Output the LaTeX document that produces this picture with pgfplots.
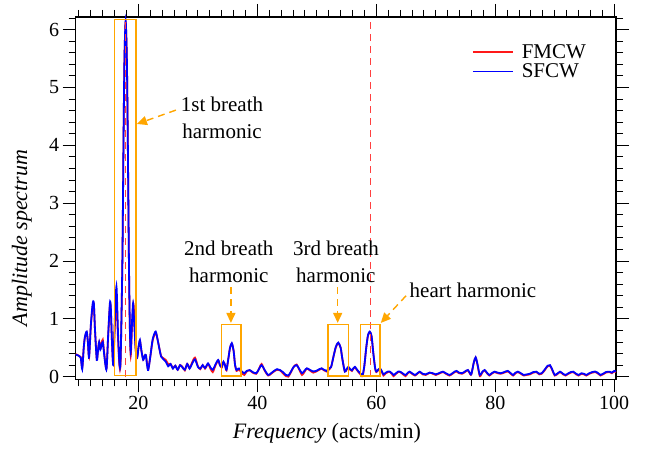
\documentclass[border=0pt]{standalone}
\usepackage{fontspec}
\setmainfont{Liberation Serif}
\usepackage{pgfplots}
\pgfplotsset{compat=1.18}
\usepackage{pgfplotstable}
\usetikzlibrary{arrows.meta}

\definecolor{fmcwred}{rgb}{1,0.1,0.1}
\definecolor{sfcwblue}{rgb}{0,0,1}
\definecolor{annot}{rgb}{1,0.65,0}
\definecolor{markred}{rgb}{1,0.25,0.25}

% SFCW amplitude spectrum (frequency in acts/min, amplitude)
\pgfplotstableread{
f a
9.45 0.38
9.7 0.375
10.0 0.36
10.3 0.33
10.55 0.13
10.8 0.5
11.0 0.69
11.3 0.78
11.5 0.6
11.7 0.33
12.0 0.9
12.3 1.26
12.5 1.27
12.7 0.8
13.0 0.29
13.2 0.45
13.4 0.6
13.6 0.47
13.8 0.55
14.0 0.6
14.2 0.42
14.45 0.2
14.65 0.145
14.9 0.7
15.2 1.27
15.35 1.2
15.55 0.6
15.77 0.2
16.0 0.9
16.3 1.56
16.55 0.8
16.8 0.23
17.0 0.3
17.3 2.0
17.5 4.2
17.65 5.5
17.85 6.15
18.05 5.5
18.2 4.2
18.4 2.0
18.55 0.9
18.7 0.43
18.9 0.9
19.1 1.27
19.3 0.9
19.55 0.45
19.8 0.335
20.0 0.5
20.25 0.635
20.5 0.45
20.8 0.29
21.05 0.36
21.25 0.375
21.45 0.2
21.65 0.115
22.0 0.35
22.4 0.65
22.9 0.78
23.3 0.6
23.8 0.35
24.2 0.30
24.6 0.26
25.0 0.18
25.4 0.22
25.8 0.14
26.2 0.19
26.6 0.12
27.0 0.2
27.4 0.16
27.8 0.12
28.2 0.22
28.6 0.14
29.0 0.22
29.5 0.30
30.0 0.17
30.4 0.14
30.8 0.2
31.2 0.15
31.7 0.23
32.1 0.16
32.5 0.12
32.9 0.2
33.4 0.29
33.7 0.2
34.0 0.17
34.3 0.26
34.55 0.2
34.8 0.12
35.1 0.3
35.4 0.5
35.7 0.58
36.0 0.45
36.25 0.2
36.5 0.115
36.8 0.14
37.0 0.14
37.3 0.1
37.8 0.06
38.2 0.1
38.7 0.115
39.2 0.08
39.8 0.06
40.2 0.12
40.7 0.2
41.2 0.12
41.8 0.03
42.3 0.06
42.8 0.1
43.3 0.13
43.8 0.115
44.3 0.08
44.8 0.03
45.2 0.02
45.6 0.08
46.1 0.17
46.6 0.2
47.0 0.14
47.5 0.06
47.9 0.1
48.3 0.145
48.8 0.12
49.4 0.09
49.9 0.1
50.4 0.13
50.8 0.145
51.2 0.12
51.6 0.1
52.0 0.13
52.4 0.17
52.8 0.35
53.2 0.52
53.6 0.59
54.0 0.5
54.3 0.3
54.7 0.09
55.0 0.13
55.3 0.17
55.6 0.13
55.9 0.11
56.1 0.14
56.4 0.17
56.7 0.13
57.0 0.09
57.4 0.05
57.7 0.03
58.0 0.2
58.3 0.5
58.6 0.72
58.9 0.78
59.2 0.7
59.5 0.4
59.8 0.15
60.0 0.09
60.3 0.12
60.6 0.145
60.9 0.1
61.2 0.04
61.6 0.07
62.0 0.09
62.3 0.087
62.6 0.06
62.9 0.03
63.3 0.06
63.7 0.09
64.0 0.087
64.4 0.06
64.9 0.03
65.3 0.07
65.6 0.087
66.0 0.06
66.5 0.03
66.9 0.06
67.3 0.087
67.8 0.05
68.3 0.04
68.7 0.06
69.0 0.07
69.5 0.06
70.0 0.04
70.5 0.06
71.2 0.087
71.7 0.06
72.3 0.03
72.8 0.06
73.2 0.09
73.5 0.1
73.9 0.07
74.4 0.06
74.9 0.09
75.4 0.115
75.8 0.05
76.0 0.05
76.4 0.25
76.7 0.335
77.0 0.22
77.4 0.03
77.8 0.08
78.2 0.115
78.6 0.07
79.0 0.03
79.4 0.06
79.9 0.087
80.4 0.07
80.9 0.06
81.5 0.08
82.1 0.1
82.6 0.06
83.0 0.03
83.4 0.07
83.8 0.087
84.3 0.06
84.8 0.03
85.3 0.04
85.8 0.05
86.4 0.08
86.9 0.087
87.4 0.05
87.8 0.06
88.3 0.12
88.8 0.19
89.2 0.2
89.6 0.12
90.0 0.03
90.5 0.06
90.9 0.087
91.4 0.05
91.8 0.03
92.3 0.06
92.7 0.08
93.1 0.087
93.6 0.05
94.0 0.03
94.5 0.06
94.9 0.05
95.3 0.03
95.8 0.06
96.3 0.08
96.8 0.09
97.2 0.07
97.7 0.03
98.1 0.05
98.6 0.08
99.2 0.087
99.6 0.07
100.0 0.1
100.3 0.09
}\sfcwdata

% FMCW amplitude spectrum
\pgfplotstableread{
f a
9.45 0.39
9.7 0.38
10.0 0.36
10.3 0.34
10.55 0.16
10.8 0.5
11.0 0.68
11.3 0.77
11.5 0.6
11.7 0.35
12.0 0.88
12.3 1.22
12.5 1.25
12.7 0.8
13.0 0.3
13.2 0.47
13.4 0.6
13.6 0.5
13.8 0.58
14.0 0.64
14.2 0.46
14.45 0.22
14.65 0.16
14.9 0.68
15.2 1.24
15.35 1.18
15.55 0.6
15.77 0.22
16.0 0.8
16.3 1.35
16.55 0.7
16.8 0.2
17.0 0.26
17.3 2.0
17.5 4.2
17.65 5.5
17.85 6.13
18.05 5.5
18.2 4.2
18.4 2.0
18.55 0.85
18.7 0.36
18.9 0.8
19.15 1.26
19.35 0.9
19.55 0.47
19.8 0.34
20.0 0.5
20.25 0.62
20.5 0.45
20.8 0.3
21.05 0.36
21.25 0.37
21.45 0.23
21.65 0.13
22.0 0.35
22.4 0.63
22.9 0.76
23.3 0.6
23.8 0.36
24.2 0.32
24.6 0.29
25.0 0.22
25.4 0.22
25.8 0.15
26.2 0.19
26.6 0.12
27.0 0.2
27.4 0.17
27.8 0.11
28.2 0.22
28.6 0.15
29.0 0.24
29.5 0.33
30.0 0.18
30.4 0.13
30.8 0.2
31.2 0.14
31.7 0.22
32.1 0.14
32.5 0.08
32.9 0.18
33.4 0.28
33.7 0.2
34.0 0.16
34.3 0.25
34.55 0.2
34.8 0.11
35.1 0.3
35.4 0.5
35.7 0.57
36.0 0.45
36.25 0.2
36.5 0.1
36.8 0.12
37.0 0.12
37.3 0.07
37.8 0.03
38.2 0.09
38.7 0.11
39.2 0.07
39.8 0.05
40.2 0.12
40.7 0.22
41.2 0.11
41.8 0.02
42.3 0.05
42.8 0.09
43.3 0.12
43.8 0.11
44.3 0.06
44.8 0.01
45.2 0.0
45.6 0.07
46.1 0.17
46.6 0.21
47.0 0.13
47.5 0.03
47.9 0.08
48.3 0.14
48.8 0.11
49.4 0.07
49.9 0.09
50.4 0.12
50.8 0.14
51.2 0.11
51.6 0.09
52.0 0.12
52.4 0.17
52.8 0.35
53.2 0.51
53.6 0.58
54.0 0.5
54.3 0.3
54.7 0.09
55.0 0.12
55.3 0.16
55.6 0.12
55.9 0.1
56.1 0.13
56.4 0.16
56.7 0.12
57.0 0.08
57.4 0.03
57.7 0.01
58.0 0.2
58.3 0.5
58.6 0.71
58.9 0.77
59.2 0.7
59.5 0.4
59.8 0.14
60.0 0.08
60.3 0.11
60.6 0.14
60.9 0.09
61.2 0.02
61.6 0.06
62.0 0.08
62.3 0.08
62.6 0.05
62.9 0.01
63.3 0.05
63.7 0.08
64.0 0.08
64.4 0.05
64.9 0.01
65.3 0.06
65.6 0.08
66.0 0.05
66.5 0.02
66.9 0.05
67.3 0.08
67.8 0.04
68.3 0.03
68.7 0.05
69.0 0.07
69.5 0.05
70.0 0.03
70.5 0.05
71.2 0.08
71.7 0.05
72.3 0.02
72.8 0.05
73.2 0.08
73.5 0.09
73.9 0.06
74.4 0.05
74.9 0.08
75.4 0.11
75.8 0.04
76.0 0.05
76.4 0.25
76.7 0.33
77.0 0.21
77.4 0.01
77.8 0.07
78.2 0.11
78.6 0.06
79.0 0.02
79.4 0.05
79.9 0.08
80.4 0.06
80.9 0.05
81.5 0.07
82.1 0.09
82.6 0.05
83.0 0.02
83.4 0.06
83.8 0.08
84.3 0.05
84.8 0.02
85.3 0.03
85.8 0.04
86.4 0.07
86.9 0.08
87.4 0.04
87.8 0.05
88.3 0.11
88.8 0.18
89.2 0.19
89.6 0.11
90.0 0.02
90.5 0.05
90.9 0.08
91.4 0.04
91.8 0.02
92.3 0.05
92.7 0.07
93.1 0.08
93.6 0.04
94.0 0.02
94.5 0.05
94.9 0.04
95.3 0.02
95.8 0.05
96.3 0.07
96.8 0.08
97.2 0.06
97.7 0.02
98.1 0.04
98.6 0.07
99.2 0.08
99.6 0.06
100.0 0.09
100.3 0.08
}\fmcwdata

\begin{document}
\begin{tikzpicture}
\useasboundingbox (0pt,0pt) rectangle (650pt,450pt);
\begin{axis}[
  at={(75.7pt,70.7pt)}, anchor=south west,
  scale only axis, width=540.3pt, height=362.3pt,
  xmin=9.45, xmax=100.3, ymin=-0.045, ymax=6.22,
  xtick={20,40,...,100},
  minor xtick={10,12,...,100},
  ytick={0,1,...,6},
  minor ytick={0,0.2,...,6.21},
  tick align=outside,
  xtick pos=both, ytick pos=both,
  xticklabel pos=lower, yticklabel pos=left,
  major tick length=13pt, minor tick length=7pt,
  every tick/.style={black, line width=1pt},
  axis line style={black, line width=1.2pt},
  /pgf/number format/assume math mode=true,
  ticklabel style={font=\fontsize{20}{20}\selectfont},
  xlabel={\textit{Frequency} (acts/min)},
  ylabel={\textit{Amplitude spectrum}},
  label style={font=\fontsize{22}{22}\selectfont},
  xlabel style={at={(axis description cs:0.465,0)}, anchor=base, yshift=-59pt},
  ylabel style={at={(axis description cs:-0.0995,0.39)}, anchor=center},
  legend style={draw=none, fill=none, at={(0.7275,0.936)}, anchor=north west,
    font=\fontsize{21}{21}\selectfont, row sep=0pt,
    /tikz/every odd column/.append style={column sep=6pt}},
  legend image code/.code={\draw[#1, line width=1.8pt, line cap=butt] (0pt,0pt) -- (40pt,0pt);},
  legend cell align=left,
  clip=false,
]
\addlegendimage{draw=fmcwred}
\addlegendentry{FMCW}
\addlegendimage{draw=sfcwblue}
\addlegendentry{SFCW}
\addplot[forget plot, fmcwred, line width=1.8pt, smooth, tension=0.45] table[x=f, y=a] {\fmcwdata};
\addplot[forget plot, sfcwblue, line width=1.8pt, smooth, tension=0.45] table[x=f, y=a] {\sfcwdata};

% breath and heart frequency markers
\draw[markred, line width=1.3pt, dash pattern=on 7pt off 5pt] (axis cs:17.85,0) -- (axis cs:17.85,6.22);
\draw[markred, line width=1.3pt, dash pattern=on 7pt off 5pt] (axis cs:59.05,0) -- (axis cs:59.05,6.22);

% harmonic boxes
\draw[annot, line width=1.4pt] (axis cs:15.93,0.02) rectangle (axis cs:19.6,6.18);
\draw[annot, line width=1.4pt] (axis cs:33.98,0.01) rectangle (axis cs:37.27,0.907);
\draw[annot, line width=1.4pt] (axis cs:51.9,0.01) rectangle (axis cs:55.3,0.907);
\draw[annot, line width=1.4pt] (axis cs:57.3,0.01) rectangle (axis cs:60.6,0.907);

% pointers
\tikzset{pointer/.style={annot, line width=1.4pt, dash pattern=on 7pt off 5pt, -{Triangle[length=10pt,width=9pt]}}}
\draw[pointer] (axis cs:26.3,4.61) -- (axis cs:19.75,4.37);
\draw[pointer] (axis cs:35.55,1.55) -- (axis cs:35.55,0.93);
\draw[pointer] (axis cs:53.5,1.55) -- (axis cs:53.5,0.93);
\draw[pointer] (axis cs:65.0,1.40) -- (axis cs:60.75,0.93);

\tikzset{note/.style={font=\fontsize{21}{27}\selectfont, align=center, inner sep=0pt}}
\node[note] at (axis cs:34.05,4.48) {1st breath\\harmonic};
\node[note] at (axis cs:35.2,1.99) {2nd breath\\harmonic};
\node[note] at (axis cs:53.2,1.99) {3rd breath\\harmonic};
\node[note] at (axis cs:76.25,1.50) {heart harmonic};
\end{axis}
\end{tikzpicture}
\end{document}
